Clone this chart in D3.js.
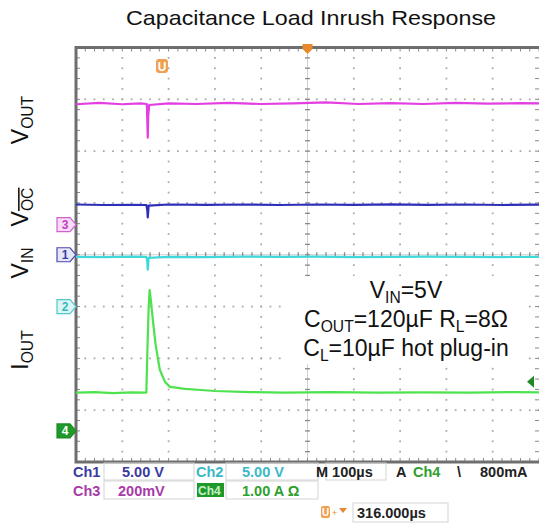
<!DOCTYPE html>
<html>
<head>
<meta charset="utf-8">
<title>Capacitance Load Inrush Response</title>
<script src="https://d3js.org/d3.v7.min.js"></script>
<style>
body { margin: 0; background: #fff; }
svg { font-family: "Liberation Sans", Arial, sans-serif; }
</style>
</head>
<body>
<script>
var width = 539, height = 525;

// scope settings: 100us/div horizontally, 8 divisions vertically
var timeDomain = [0, 1000];
var divDomain = [-4, 4];

// per channel: units per division and ground marker position (in divisions)
var chNumbers = ["1", "2", "3", "4"];
var chScale = [5, 5, 0.2, 1];
var chOffset = [0, -1, 0.58, -3.4];
var chColor = ["#2e2eb8", "#40d8dc", "#e23ee2", "#4ee24e"];
var triggerLevel = 0.95; // A, on Ch4

// Ch3 - VOUT (V)
var ch3Time = [0, 50, 100, 140, 153, 154, 155, 156, 158, 200, 260, 330, 400, 470, 540, 610, 680, 750, 820, 890, 960, 1000];
var ch3Volts = [0.465, 0.47, 0.465, 0.468, 0.466, 0.40, 0.336, 0.42, 0.462, 0.468, 0.466, 0.47, 0.466, 0.468, 0.472, 0.466, 0.469, 0.466, 0.47, 0.467, 0.469, 0.468];
// Ch1 - VOC (V)
var ch1Time = [0, 60, 120, 152, 154, 155, 157, 200, 280, 360, 440, 520, 600, 680, 760, 840, 920, 1000];
var ch1Volts = [4.85, 4.8, 4.82, 4.8, 4.3, 3.6, 4.75, 4.85, 4.82, 4.85, 4.8, 4.85, 4.82, 4.86, 4.82, 4.85, 4.8, 4.84];
// Ch2 - VIN (V)
var ch2Time = [0, 60, 120, 152, 154, 155, 157, 200, 280, 360, 440, 520, 600, 680, 760, 840, 920, 1000];
var ch2Volts = [4.8, 4.78, 4.82, 4.8, 4.3, 3.55, 4.7, 4.8, 4.78, 4.82, 4.8, 4.82, 4.78, 4.8, 4.82, 4.8, 4.78, 4.8];
// Ch4 - IOUT (A)
var ch4Time = [0, 40, 80, 120, 152, 154, 157, 159, 162, 166, 172, 181, 192, 203, 220, 235, 270, 300, 375, 450, 550, 650, 750, 850, 950, 1000];
var ch4Amps = [0.74, 0.75, 0.73, 0.745, 0.74, 1.5, 2.4, 2.72, 2.5, 2.14, 1.66, 1.18, 0.95, 0.85, 0.83, 0.81, 0.79, 0.77, 0.75, 0.74, 0.75, 0.74, 0.745, 0.74, 0.75, 0.745];

var traces = [
  {ch: 2, t: ch3Time, v: ch3Volts},
  {ch: 0, t: ch1Time, v: ch1Volts},
  {ch: 1, t: ch2Time, v: ch2Volts},
  {ch: 3, t: ch4Time, v: ch4Amps}
];

var svg = d3.select("body").append("svg").attr("width", width).attr("height", height);

var plot = {left: 76, right: 539, top: 47.5, bottom: 462};
var x = d3.scaleLinear().domain(timeDomain).range([plot.left, plot.right]);
var y = d3.scaleLinear().domain(divDomain).range([plot.bottom, plot.top]);

// title
svg.append("text").attr("x", 311).attr("y", 25).attr("text-anchor", "middle")
  .attr("textLength", 370).attr("lengthAdjust", "spacingAndGlyphs")
  .style("font-size", "21px").attr("fill", "#111").text("Capacitance Load Inrush Response");

// grid
var grid = svg.append("g");
var xMajor = d3.range(100, 1000, 100), xMinor = d3.range(0, 1001, 20);
var yMajor = d3.range(-3, 4, 1), yMinor = d3.range(-4, 4.001, 0.2);

xMajor.filter(function (t) { return t != 500; }).forEach(function (t) {
  grid.selectAll(null).data(yMinor).enter().append("rect")
    .attr("x", x(t) - 0.9).attr("y", function (d) { return y(d) - 0.9; })
    .attr("width", 1.8).attr("height", 1.8).attr("fill", "#ababab");
});
yMajor.filter(function (d) { return d != 0; }).forEach(function (dv) {
  grid.selectAll(null).data(xMinor).enter().append("rect")
    .attr("x", function (t) { return x(t) - 0.9; }).attr("y", y(dv) - 0.9)
    .attr("width", 1.8).attr("height", 1.8).attr("fill", "#ababab");
});
// center cross with ticks
grid.append("line").attr("x1", x(500)).attr("x2", x(500)).attr("y1", plot.top).attr("y2", plot.bottom)
  .attr("stroke", "#cfcfcf").attr("stroke-width", 1);
grid.append("line").attr("x1", plot.left).attr("x2", plot.right).attr("y1", y(0)).attr("y2", y(0))
  .attr("stroke", "#cfcfcf").attr("stroke-width", 1);
grid.selectAll(null).data(yMinor).enter().append("line")
  .attr("x1", x(500) - 2.5).attr("x2", x(500) + 2.5)
  .attr("y1", function (d) { return y(d); }).attr("y2", function (d) { return y(d); })
  .attr("stroke", "#888").attr("stroke-width", 1.3);
grid.selectAll(null).data(xMinor).enter().append("line")
  .attr("y1", y(0) - 2.5).attr("y2", y(0) + 2.5)
  .attr("x1", function (t) { return x(t); }).attr("x2", function (t) { return x(t); })
  .attr("stroke", "#888").attr("stroke-width", 1.3);

// frame ticks
grid.selectAll(null).data(xMinor).enter().append("line")
  .attr("x1", function (t) { return x(t); }).attr("x2", function (t) { return x(t); })
  .attr("y1", plot.top).attr("y2", plot.top + 4).attr("stroke", "#888");
grid.selectAll(null).data(xMinor).enter().append("line")
  .attr("x1", function (t) { return x(t); }).attr("x2", function (t) { return x(t); })
  .attr("y1", plot.bottom - 4).attr("y2", plot.bottom).attr("stroke", "#888");
grid.selectAll(null).data(yMinor).enter().append("line")
  .attr("y1", function (d) { return y(d); }).attr("y2", function (d) { return y(d); })
  .attr("x1", plot.left).attr("x2", plot.left + 4).attr("stroke", "#888");
grid.selectAll(null).data(yMinor).enter().append("line")
  .attr("y1", function (d) { return y(d); }).attr("y2", function (d) { return y(d); })
  .attr("x1", plot.right - 4).attr("x2", plot.right).attr("stroke", "#888");

grid.append("rect").attr("x", plot.left).attr("y", plot.top)
  .attr("width", plot.right - plot.left + 2).attr("height", plot.bottom - plot.top)
  .attr("fill", "none").attr("stroke", "#6e6e6e").attr("stroke-width", 3);

// traces
var line = d3.line()
  .x(function (d) { return x(d[0]); })
  .y(function (d) { return d[1]; });

traces.forEach(function (tr) {
  var pts = tr.t.map(function (t, i) {
    return [t, y(tr.v[i] / chScale[tr.ch] + chOffset[tr.ch])];
  });
  svg.append("path").datum(pts).attr("d", line)
    .attr("fill", "none").attr("stroke", chColor[tr.ch])
    .attr("stroke-width", 2.2).attr("stroke-linejoin", "round");
});

// channel ground markers
var markerFill = ["#e6e6f8", "#dcf6f6", "#f8dcf8", "#1f9a2a"];
var markerStroke = ["#4a4ab0", "#50c8cc", "#d060d0", "#1f8a25"];
var markerText = ["#3a3aa8", "#3ab8c0", "#c040c0", "#ffffff"];
chNumbers.forEach(function (n, i) {
  var cy = y(chOffset[i]);
  var g = svg.append("g");
  g.append("path")
    .attr("d", "M57," + (cy - 7) + "H70L76," + cy + "L70," + (cy + 7) + "H57Z")
    .attr("fill", markerFill[i]).attr("stroke", markerStroke[i]).attr("stroke-width", 1.2);
  g.append("text").attr("x", 65).attr("y", cy + 4.5).attr("text-anchor", "middle")
    .style("font-size", "12px").style("font-weight", "bold").attr("fill", markerText[i]).text(n);
});

// cursor / trigger markers
svg.append("rect").attr("x", 156).attr("y", 59).attr("width", 12).attr("height", 14).attr("rx", 3)
  .attr("fill", "#f0a050");
svg.append("text").attr("x", 162).attr("y", 71).attr("text-anchor", "middle")
  .style("font-size", "12px").style("font-weight", "bold").attr("fill", "#fff").text("U");
svg.append("path").attr("d", "M" + (x(500) - 5) + ",44H" + (x(500) + 5) + "V49L" + x(500) + ",54L" + (x(500) - 5) + ",49Z")
  .attr("fill", "#e8892c");
svg.append("path").attr("d", "M527," + y(triggerLevel + chOffset[3]) + "l7,-6v12z").attr("fill", "#1f8a25");

// rich text with subscripts
function richText(sel, parts, size) {
  var wasSub = false;
  parts.forEach(function (p) {
    var t = sel.append("tspan").text(p[0]);
    if (p[1]) {
      t.style("font-size", (size * 0.68) + "px").attr("dy", size * 0.22);
      if (p[2]) t.style("text-decoration", "overline");
      wasSub = true;
    } else {
      if (wasSub) t.attr("dy", -size * 0.22);
      wasSub = false;
    }
  });
}

// signal labels (rotated)
var sideLabels = [
  {y: 120, parts: [["V"], ["OUT", true]]},
  {y: 207, parts: [["V"], ["OC", true, true]]},
  {y: 263, parts: [["V"], ["IN", true]]},
  {y: 350, parts: [["I"], ["OUT", true]]}
];
sideLabels.forEach(function (l) {
  var t = svg.append("text").attr("transform", "translate(28," + l.y + ") rotate(-90)")
    .attr("text-anchor", "middle").style("font-size", "23px").attr("fill", "#111");
  richText(t, l.parts, 23);
});

// annotation box
svg.append("rect").attr("x", 284).attr("y", 276).attr("width", 244).attr("height", 88).attr("fill", "#fff");
var noteLines = [
  [["V"], ["IN", true], ["=5V"]],
  [["C"], ["OUT", true], ["=120\u00b5F R"], ["L", true], ["=8\u03a9"]],
  [["C"], ["L", true], ["=10\u00b5F hot plug-in"]]
];
noteLines.forEach(function (parts, i) {
  var t = svg.append("text").attr("x", 406).attr("y", 298 + i * 29)
    .attr("text-anchor", "middle").style("font-size", "23px").attr("fill", "#111");
  richText(t, parts, 23);
});

// status readout below the graticule
var boxes = [[104, 463, 90, 17], [226, 463, 92, 17], [104, 481, 90, 18], [226, 481, 92, 18], [326, 463, 60, 17], [353, 503, 95, 19]];
svg.selectAll(null).data(boxes).enter().append("rect")
  .attr("x", function (d) { return d[0]; }).attr("y", function (d) { return d[1]; })
  .attr("width", function (d) { return d[2]; }).attr("height", function (d) { return d[3]; })
  .attr("fill", "none").attr("stroke", "#d4d4d4");
svg.append("rect").attr("x", 197).attr("y", 483).attr("width", 27).attr("height", 14).attr("fill", "#1f9a2a");

var readout = [
  {x: 73, y: 477, s: "Ch1", c: "#3a3aa0"},
  {x: 122, y: 477, s: "5.00 V", c: "#3a3aa0"},
  {x: 196, y: 477, s: "Ch2", c: "#3ab8c8"},
  {x: 242, y: 477, s: "5.00 V", c: "#3ab8c8"},
  {x: 316, y: 477, s: "M 100\u00b5s", c: "#222"},
  {x: 396, y: 477, s: "A", c: "#222"},
  {x: 413, y: 477, s: "Ch4", c: "#2ea02e"},
  {x: 457, y: 477, s: "\u005c", c: "#222"},
  {x: 480, y: 477, s: "800mA", c: "#222"},
  {x: 73, y: 496, s: "Ch3", c: "#a83aa8"},
  {x: 118, y: 496, s: "200mV", c: "#a83aa8"},
  {x: 198, y: 495, s: "Ch4", c: "#c8f0c8"},
  {x: 242, y: 496, s: "1.00 A \u03a9", c: "#2ea02e"},
  {x: 357, y: 518, s: "316.000\u00b5s", c: "#222"}
];
svg.selectAll(null).data(readout).enter().append("text")
  .attr("x", function (d) { return d.x; }).attr("y", function (d) { return d.y; })
  .style("font-size", function (d) { return d.s == "Ch4" && d.y == 495 ? "12px" : "14.5px"; })
  .style("font-weight", "bold")
  .attr("fill", function (d) { return d.c; }).text(function (d) { return d.s; });
svg.append("rect").attr("x", 321).attr("y", 506).attr("width", 9).attr("height", 12).attr("rx", 2).attr("fill", "#f0a050");
svg.append("text").attr("x", 325.5).attr("y", 516).attr("text-anchor", "middle").style("font-size", "10px")
  .style("font-weight", "bold").attr("fill", "#fff").text("U");
svg.append("text").attr("x", 332).attr("y", 516).style("font-size", "9px").attr("fill", "#e8892c").text("+");
svg.append("path").attr("d", "M339,508H347L343,513Z").attr("fill", "#e8892c");
</script>
</body>
</html>
